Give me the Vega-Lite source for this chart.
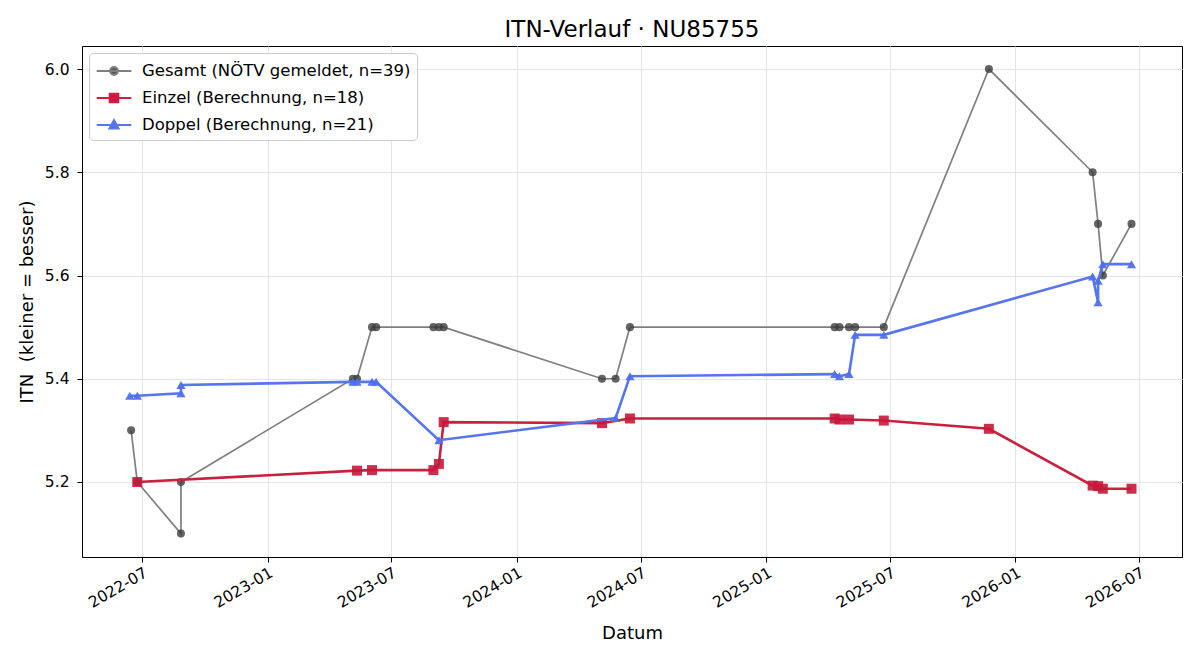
{
  "$schema": "https://vega.github.io/schema/vega-lite/v6.json",
  "description": "ITN-Verlauf NU85755",
  "width": 1100,
  "height": 511,
  "autosize": "none",
  "padding": {"left": 82, "top": 46, "right": 18, "bottom": 103},
  "background": "white",
  "title": {"text": "ITN-Verlauf · NU85755", "fontSize": 23, "fontWeight": "normal", "anchor": "middle", "offset": 4, "color": "black"},
  "data": {
    "values": [
      {"series": "Gesamt (NÖTV gemeldet, n=39)", "i": 1, "date": "2022-06-15", "itn": 5.3},
      {"series": "Gesamt (NÖTV gemeldet, n=39)", "i": 2, "date": "2022-06-24", "itn": 5.2},
      {"series": "Gesamt (NÖTV gemeldet, n=39)", "i": 3, "date": "2022-08-27", "itn": 5.1},
      {"series": "Gesamt (NÖTV gemeldet, n=39)", "i": 4, "date": "2022-08-27", "itn": 5.2},
      {"series": "Gesamt (NÖTV gemeldet, n=39)", "i": 5, "date": "2023-05-06", "itn": 5.4},
      {"series": "Gesamt (NÖTV gemeldet, n=39)", "i": 6, "date": "2023-05-12", "itn": 5.4},
      {"series": "Gesamt (NÖTV gemeldet, n=39)", "i": 7, "date": "2023-06-03", "itn": 5.5},
      {"series": "Gesamt (NÖTV gemeldet, n=39)", "i": 8, "date": "2023-06-09", "itn": 5.5},
      {"series": "Gesamt (NÖTV gemeldet, n=39)", "i": 9, "date": "2023-09-01", "itn": 5.5},
      {"series": "Gesamt (NÖTV gemeldet, n=39)", "i": 10, "date": "2023-09-09", "itn": 5.5},
      {"series": "Gesamt (NÖTV gemeldet, n=39)", "i": 11, "date": "2023-09-16", "itn": 5.5},
      {"series": "Gesamt (NÖTV gemeldet, n=39)", "i": 12, "date": "2024-05-05", "itn": 5.4},
      {"series": "Gesamt (NÖTV gemeldet, n=39)", "i": 13, "date": "2024-05-25", "itn": 5.4},
      {"series": "Gesamt (NÖTV gemeldet, n=39)", "i": 14, "date": "2024-06-15", "itn": 5.5},
      {"series": "Gesamt (NÖTV gemeldet, n=39)", "i": 15, "date": "2025-04-11", "itn": 5.5},
      {"series": "Gesamt (NÖTV gemeldet, n=39)", "i": 16, "date": "2025-04-18", "itn": 5.5},
      {"series": "Gesamt (NÖTV gemeldet, n=39)", "i": 17, "date": "2025-05-02", "itn": 5.5},
      {"series": "Gesamt (NÖTV gemeldet, n=39)", "i": 18, "date": "2025-05-11", "itn": 5.5},
      {"series": "Gesamt (NÖTV gemeldet, n=39)", "i": 19, "date": "2025-06-22", "itn": 5.5},
      {"series": "Gesamt (NÖTV gemeldet, n=39)", "i": 20, "date": "2025-11-23", "itn": 6.0},
      {"series": "Gesamt (NÖTV gemeldet, n=39)", "i": 21, "date": "2026-04-24", "itn": 5.8},
      {"series": "Gesamt (NÖTV gemeldet, n=39)", "i": 22, "date": "2026-05-02", "itn": 5.7},
      {"series": "Gesamt (NÖTV gemeldet, n=39)", "i": 23, "date": "2026-05-09", "itn": 5.6},
      {"series": "Gesamt (NÖTV gemeldet, n=39)", "i": 24, "date": "2026-06-20", "itn": 5.7},
      {"series": "Einzel (Berechnung, n=18)", "i": 1, "date": "2022-06-24", "itn": 5.2},
      {"series": "Einzel (Berechnung, n=18)", "i": 2, "date": "2023-05-12", "itn": 5.222},
      {"series": "Einzel (Berechnung, n=18)", "i": 3, "date": "2023-06-03", "itn": 5.223},
      {"series": "Einzel (Berechnung, n=18)", "i": 4, "date": "2023-09-01", "itn": 5.223},
      {"series": "Einzel (Berechnung, n=18)", "i": 5, "date": "2023-09-09", "itn": 5.235},
      {"series": "Einzel (Berechnung, n=18)", "i": 6, "date": "2023-09-16", "itn": 5.316},
      {"series": "Einzel (Berechnung, n=18)", "i": 7, "date": "2024-05-05", "itn": 5.314},
      {"series": "Einzel (Berechnung, n=18)", "i": 8, "date": "2024-06-15", "itn": 5.323},
      {"series": "Einzel (Berechnung, n=18)", "i": 9, "date": "2025-04-11", "itn": 5.323},
      {"series": "Einzel (Berechnung, n=18)", "i": 10, "date": "2025-04-18", "itn": 5.321},
      {"series": "Einzel (Berechnung, n=18)", "i": 11, "date": "2025-05-02", "itn": 5.321},
      {"series": "Einzel (Berechnung, n=18)", "i": 12, "date": "2025-06-22", "itn": 5.319},
      {"series": "Einzel (Berechnung, n=18)", "i": 13, "date": "2025-11-23", "itn": 5.303},
      {"series": "Einzel (Berechnung, n=18)", "i": 14, "date": "2026-04-24", "itn": 5.193},
      {"series": "Einzel (Berechnung, n=18)", "i": 15, "date": "2026-05-02", "itn": 5.192},
      {"series": "Einzel (Berechnung, n=18)", "i": 16, "date": "2026-05-09", "itn": 5.187},
      {"series": "Einzel (Berechnung, n=18)", "i": 17, "date": "2026-06-20", "itn": 5.187},
      {"series": "Doppel (Berechnung, n=21)", "i": 1, "date": "2022-06-13", "itn": 5.367},
      {"series": "Doppel (Berechnung, n=21)", "i": 2, "date": "2022-06-24", "itn": 5.367},
      {"series": "Doppel (Berechnung, n=21)", "i": 3, "date": "2022-08-27", "itn": 5.372},
      {"series": "Doppel (Berechnung, n=21)", "i": 4, "date": "2022-08-27", "itn": 5.388},
      {"series": "Doppel (Berechnung, n=21)", "i": 5, "date": "2023-05-06", "itn": 5.394},
      {"series": "Doppel (Berechnung, n=21)", "i": 6, "date": "2023-05-12", "itn": 5.394},
      {"series": "Doppel (Berechnung, n=21)", "i": 7, "date": "2023-06-03", "itn": 5.394},
      {"series": "Doppel (Berechnung, n=21)", "i": 8, "date": "2023-06-09", "itn": 5.394},
      {"series": "Doppel (Berechnung, n=21)", "i": 9, "date": "2023-09-09", "itn": 5.281},
      {"series": "Doppel (Berechnung, n=21)", "i": 10, "date": "2024-05-25", "itn": 5.324},
      {"series": "Doppel (Berechnung, n=21)", "i": 11, "date": "2024-06-15", "itn": 5.405},
      {"series": "Doppel (Berechnung, n=21)", "i": 12, "date": "2025-04-11", "itn": 5.409},
      {"series": "Doppel (Berechnung, n=21)", "i": 13, "date": "2025-04-18", "itn": 5.405},
      {"series": "Doppel (Berechnung, n=21)", "i": 14, "date": "2025-05-02", "itn": 5.409},
      {"series": "Doppel (Berechnung, n=21)", "i": 15, "date": "2025-05-11", "itn": 5.485},
      {"series": "Doppel (Berechnung, n=21)", "i": 16, "date": "2025-06-22", "itn": 5.485},
      {"series": "Doppel (Berechnung, n=21)", "i": 17, "date": "2026-04-24", "itn": 5.598},
      {"series": "Doppel (Berechnung, n=21)", "i": 18, "date": "2026-05-02", "itn": 5.548},
      {"series": "Doppel (Berechnung, n=21)", "i": 19, "date": "2026-05-02", "itn": 5.59},
      {"series": "Doppel (Berechnung, n=21)", "i": 20, "date": "2026-05-09", "itn": 5.622},
      {"series": "Doppel (Berechnung, n=21)", "i": 21, "date": "2026-06-20", "itn": 5.622}
    ]
  },
  "encoding": {
    "x": {
      "field": "date",
      "type": "temporal",
      "title": "Datum",
      "scale": {
        "type": "utc",
        "domain": [
          {"year": 2022, "month": 4, "date": 4, "utc": true},
          {"year": 2026, "month": 9, "date": 2, "utc": true}
        ],
        "nice": false
      },
      "axis": {
        "format": "%Y-%m",
        "tickCount": {"interval": "month", "step": 6},
        "labelAngle": -30,
        "labelAlign": "right",
        "labelBaseline": "top",
        "labelPadding": 3,
        "titlePadding": 14
      }
    },
    "y": {
      "field": "itn",
      "type": "quantitative",
      "title": "ITN\u00a0 (kleiner = besser)",
      "scale": {"domain": [5.0547, 6.0446], "nice": false, "zero": false},
      "axis": {"values": [5.2, 5.4, 5.6, 5.8, 6.0], "format": ".1f", "labelPadding": 8, "titlePadding": 8}
    },
    "order": {"field": "i", "type": "quantitative"}
  },
  "layer": [
    {
      "transform": [{"filter": "datum.series === 'Gesamt (NÖTV gemeldet, n=39)'"}],
      "mark": {"type": "line", "strokeWidth": 1.7},
      "encoding": {
        "color": {
          "field": "series",
          "type": "nominal",
          "sort": null,
          "scale": {
            "domain": ["Gesamt (NÖTV gemeldet, n=39)", "Einzel (Berechnung, n=18)", "Doppel (Berechnung, n=21)"],
            "range": ["#7f7f7f", "#c8203e", "#5675ee"]
          },
          "legend": {
            "title": null,
            "orient": "top-left",
            "offset": 7,
            "padding": 6,
            "fillColor": "white",
            "strokeColor": "#cccccc",
            "cornerRadius": 4,
            "labelFontSize": 16.5,
            "labelColor": "black",
            "labelLimit": 500,
            "labelOffset": 16,
            "symbolOffset": 7,
            "rowPadding": 6,
            "symbolSize": 441,
            "symbolStrokeWidth": 2.2,
            "encode": {
              "symbols": {
                "update": {
                  "shape": [
                    {"test": "datum.label === 'Gesamt (NÖTV gemeldet, n=39)'", "value": "M-1.65,0H1.65M-0.36,0A0.36,0.36 0 1,1 0.36,0A0.36,0.36 0 1,1 -0.36,0Z"},
                    {"test": "datum.label === 'Einzel (Berechnung, n=18)'", "value": "M-1.65,0H1.65M-0.4,-0.4H0.4V0.4H-0.4Z"},
                    {"value": "M-1.65,0H1.65M0,-0.45L0.42,0.32L-0.42,0.32Z"}
                  ],
                  "fill": [
                    {"test": "datum.label === 'Gesamt (NÖTV gemeldet, n=39)'", "value": "#555555"},
                    {"test": "datum.label === 'Einzel (Berechnung, n=18)'", "value": "#c8173a"},
                    {"value": "#4f6ff0"}
                  ],
                  "opacity": {"value": 1}
                }
              }
            }
          }
        }
      }
    },
    {
      "transform": [{"filter": "datum.series === 'Gesamt (NÖTV gemeldet, n=39)'"}],
      "mark": {"type": "point", "filled": true, "shape": "circle", "size": 65, "color": "#3d3d3d", "opacity": 0.8}
    },
    {
      "transform": [{"filter": "datum.series === 'Einzel (Berechnung, n=18)'"}],
      "mark": {"type": "line", "strokeWidth": 2.6},
      "encoding": {"color": {"field": "series", "type": "nominal"}}
    },
    {
      "transform": [{"filter": "datum.series === 'Einzel (Berechnung, n=18)'"}],
      "mark": {"type": "point", "filled": true, "shape": "square", "size": 100, "color": "#c8173a", "opacity": 0.9}
    },
    {
      "transform": [{"filter": "datum.series === 'Doppel (Berechnung, n=21)'"}],
      "mark": {"type": "line", "strokeWidth": 2.6},
      "encoding": {"color": {"field": "series", "type": "nominal"}}
    },
    {
      "transform": [{"filter": "datum.series === 'Doppel (Berechnung, n=21)'"}],
      "mark": {"type": "point", "filled": true, "shape": "triangle-up", "size": 85, "color": "#4f6ff0", "opacity": 0.95}
    }
  ],
  "config": {
    "font": "DejaVu Sans",
    "view": {"stroke": "black", "strokeWidth": 1},
    "axis": {
      "labelFont": "DejaVu Sans",
      "titleFont": "DejaVu Sans",
      "labelFontSize": 15.5,
      "titleFontSize": 18,
      "titleFontWeight": "normal",
      "labelColor": "black",
      "titleColor": "black",
      "domainColor": "black",
      "tickColor": "black",
      "tickSize": 5,
      "gridColor": "#e5e5e5",
      "gridWidth": 1
    },
    "legend": {"labelFont": "DejaVu Sans"}
  }
}
